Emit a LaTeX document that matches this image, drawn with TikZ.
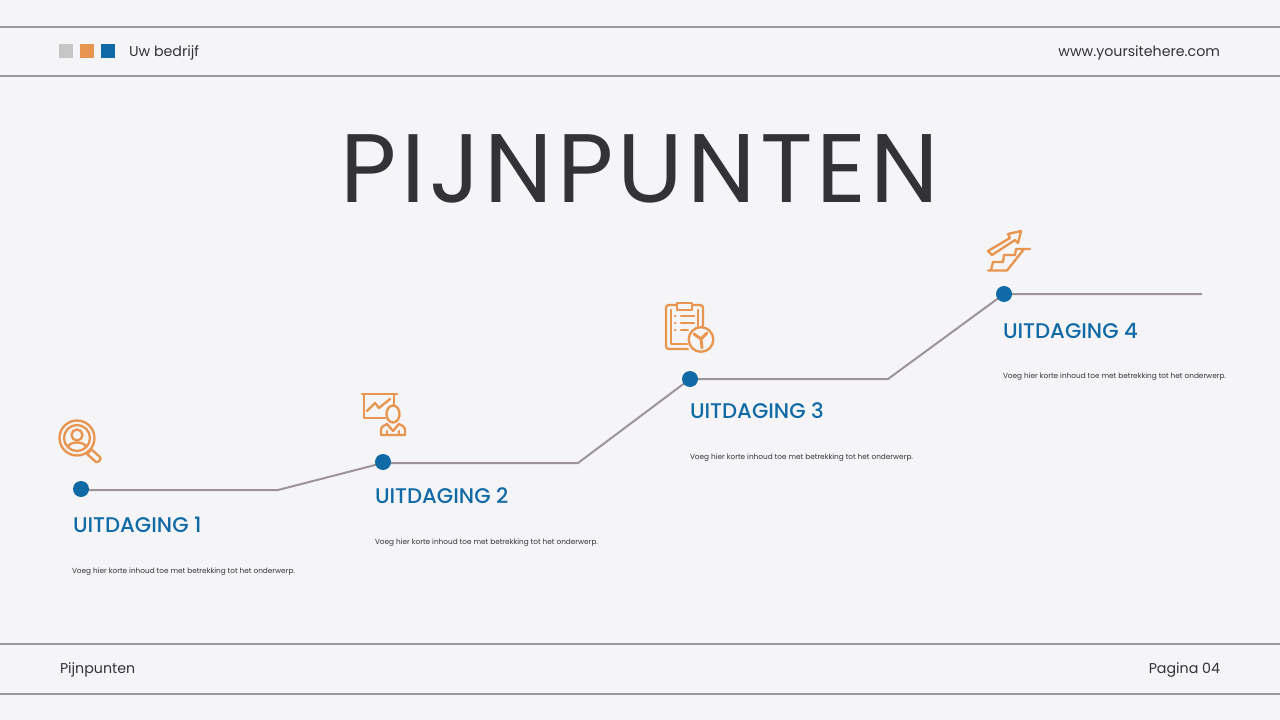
\documentclass[tikz,border=0pt]{standalone}
\usepackage{fontspec}
\setmainfont{Poppins}
\newfontfamily\popmed{Poppins Medium}
\newfontfamily\popspaced[LetterSpace=4.2]{Poppins}
\definecolor{bg}{HTML}{F5F5F7}
\definecolor{rulec}{HTML}{9A9A9C}
\definecolor{ink}{HTML}{333335}
\definecolor{blue}{HTML}{0F6AA6}
\definecolor{orange}{HTML}{E8954F}
\definecolor{greybox}{HTML}{C6C6C6}
\definecolor{linec}{HTML}{9C9498}
\tikzset{
  x=0.75pt,y=-0.75pt,
  rulebar/.style={draw=rulec,line width=1.5pt},
  lab/.style={inner sep=0pt,outer sep=0pt,anchor=base west,text=ink,font=\fontsize{10.65}{13}\selectfont},
  labr/.style={lab,anchor=base east},
  sq/.style={minimum size=10.5pt,inner sep=0pt,outer sep=0pt,anchor=center},
  dot/.style={circle,fill=blue,minimum size=12pt,inner sep=0pt,outer sep=0pt},
  head/.style={inner sep=0pt,outer sep=0pt,anchor=base west,text=blue,font=\popmed\fontsize{15.9}{18}\selectfont},
  body/.style={inner sep=0pt,outer sep=0pt,anchor=base west,text=ink,font=\fontsize{5.5}{7}\selectfont},
  chain/.style={draw=linec,line width=1.5pt},
  ico/.style={draw=orange,line width=1.75pt,line join=round,line cap=round,fill=none},
}
\begin{document}
\begin{tikzpicture}
\useasboundingbox (0,0) rectangle (1280,720);
\fill[bg] (0,0) rectangle (1280,720);
\draw[rulebar] (0,27) -- (1280,27);
\draw[rulebar] (0,76) -- (1280,76);
\draw[rulebar] (0,644) -- (1280,644);
\draw[rulebar] (0,694) -- (1280,694);
\node[sq,fill=greybox] (s1) at (66,51) {};
\node[sq,fill=orange] (s2) at (87,51) {};
\node[sq,fill=blue] (s3) at (108,51) {};
\node[lab] (company) at (129,57) {Uw bedrijf};
\node[labr] (site) at (1220,57) {www.yoursitehere.com};
\node[lab] (foot) at (60,673) {Pijnpunten};
\node[labr] (page) at (1220,673) {Pagina 04};
\node[inner sep=0pt,anchor=base west,text=ink,font=\popspaced\fontsize{73}{80}\selectfont] (title) at (340.5,203) {PIJNPUNTEN};
% chain
\coordinate (b1) at (278,490);
\coordinate (b2) at (578,463);
\coordinate (b3) at (888,379);
\coordinate (e4) at (1202,294);
\coordinate (c1) at (81,490);
\coordinate (c2) at (383,463);
\coordinate (c3) at (690,379);
\coordinate (c4) at (1004,294);
\draw[chain] (c1) -- (b1) -- (c2) -- (b2) -- (c3) -- (b3) -- (c4) -- (e4);
\node[dot] (d1) at (81,489) {};
\node[dot] (d2) at (383,462) {};
\node[dot] (d3) at (690,379) {};
\node[dot] (d4) at (1004,294) {};
\node[head] (h1) at (73,532) {UITDAGING 1};
\node[head] (h2) at (375,503) {UITDAGING 2};
\node[head] (h3) at (690,418) {UITDAGING 3};
\node[head] (h4) at (1003,338) {UITDAGING 4};
\node[body] (t1) at (72,573) {Voeg hier korte inhoud toe met betrekking tot het onderwerp.};
\node[body] (t2) at (375,544) {Voeg hier korte inhoud toe met betrekking tot het onderwerp.};
\node[body] (t3) at (690,459) {Voeg hier korte inhoud toe met betrekking tot het onderwerp.};
\node[body] (t4) at (1003,378) {Voeg hier korte inhoud toe met betrekking tot het onderwerp.};
% icon 1: magnifier
\draw[ico] (77,438) circle[radius=17.5];
\draw[ico] (77,438) circle[radius=13];
\draw[ico] (77,435) circle[radius=5.5];
\draw[ico] (68,447) .. controls (69,441) and (85,441) .. (86,447);
\draw[ico] (90,451) -- (87,454) -- (96,462) .. controls (98,463) and (102,459) .. (100,457) -- (91,449);
% icon 2: presentation
\draw[ico] (362,394) -- (397,394);
\draw[ico] (364,394) -- (364,418) -- (385,418);
\draw[ico] (394,394) -- (394,406);
\draw[ico] (367,411) -- (375,403) -- (379,408) -- (390,399);
\draw[ico] (393,414) ellipse[x radius=6.5,y radius=8.5];
\draw[ico] (381,435) -- (405,435) -- (405,430) .. controls (405,427) and (402,425) .. (399,424) -- (393,431) -- (387,424) .. controls (384,425) and (381,427) .. (381,430) -- cycle;
\draw[ico] (387,435) -- (387,431) (399,435) -- (399,431);
% icon 3: clipboard
\draw[ico] (677,305) -- (669,305) .. controls (667,305) and (666,306) .. (666,308) -- (666,346) .. controls (666,348) and (667,349) .. (669,349) -- (688,349);
\draw[ico] (692,305) -- (700,305) .. controls (702,305) and (703,306) .. (703,308) -- (703,327);
\draw[ico] (671,310) -- (671,344) -- (687,344);
\draw[ico] (698,310) -- (698,327);
\draw[ico] (677,303) rectangle (692,310);
\draw[ico] (681,316) -- (694,316) (681,323) -- (694,323) (681,330) -- (688,330);
\draw[ico,line width=1.8pt] (675,316) -- (675.5,316) (675,323) -- (675.5,323) (675,330) -- (675.5,330);
\draw[ico] (701,339.5) circle[radius=12.3];
\draw[ico,line width=2.2pt] (701,339) -- (702,348) (701,339) -- (694,334) (701,339) -- (707,333);
% icon 4: stairs
\draw[ico] (988,251) -- (1010,238) -- (1008,234) -- (1021,231) -- (1018,243) -- (1015,240) -- (992,255) -- cycle;
\draw[ico] (1030,249) -- (1016,249) -- (1015,255) -- (1004,255) -- (1003,262) -- (993,262) -- (991,270);
\draw[ico] (988,270.5) -- (1007,270.5) -- (1024,249);
\end{tikzpicture}
\end{document}
